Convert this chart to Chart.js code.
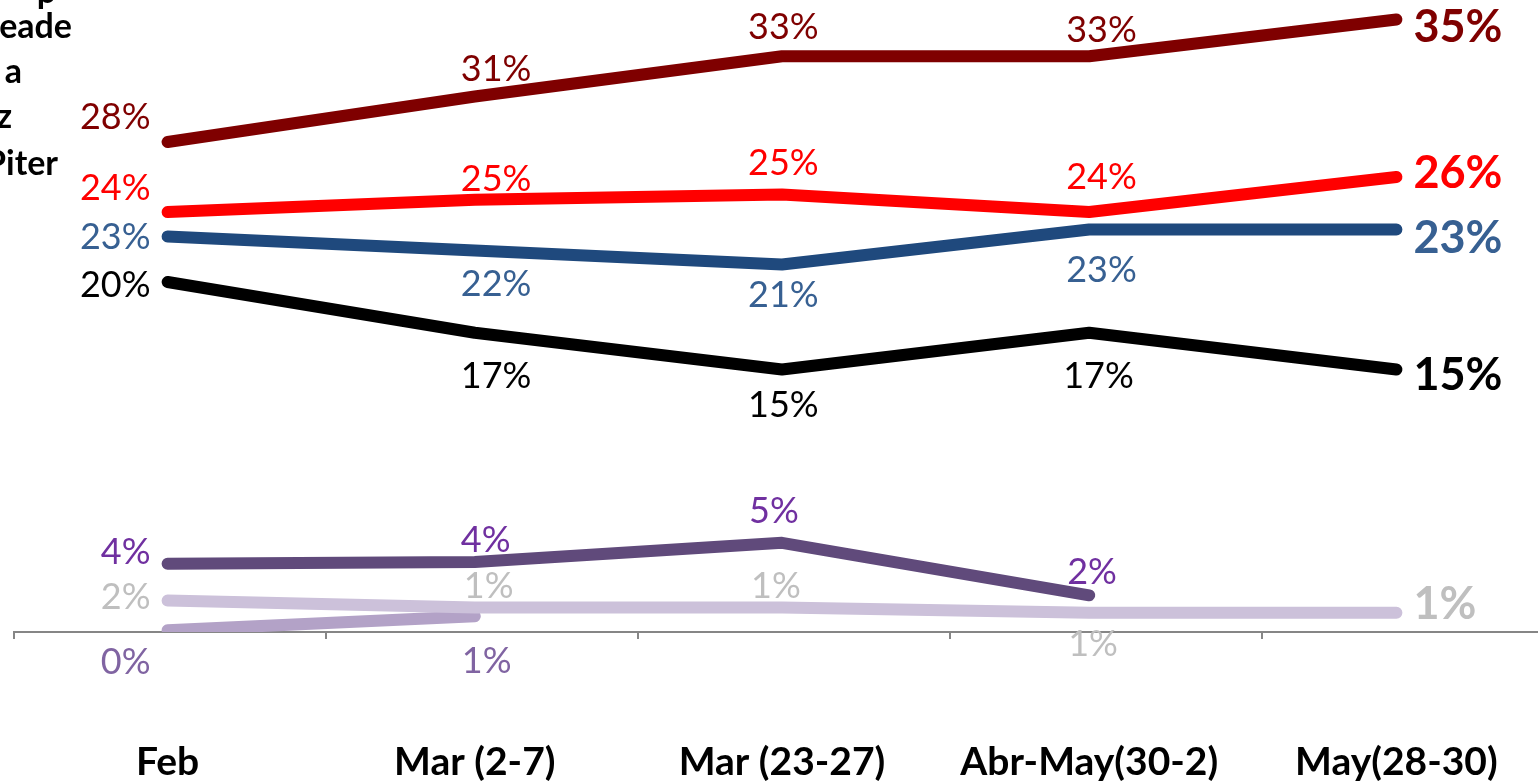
<!DOCTYPE html>
<html><head><meta charset="utf-8">
<script src="https://cdn.jsdelivr.net/npm/chart.js@4.4.1/dist/chart.umd.min.js"></script>
<style>
html,body{margin:0;padding:0;background:#fff;overflow:hidden;width:1538px;height:784px;}
#wrap{position:relative;width:1538px;height:784px;overflow:hidden;}
#c{position:absolute;left:0;top:0;display:block;}
.leg{position:absolute;width:300px;font:bold 34px Lato;line-height:34px;color:#000;white-space:nowrap;text-align:right;}
</style></head><body>
<div id="wrap"><canvas id="c" width="1550" height="784" style="width:1550px;height:784px"></canvas></div>
<script>
// ---- data ----
const categories = ['Feb', 'Mar (2-7)', 'Mar (23-27)', 'Abr-May(30-2)', 'May(28-30)'];
const seriesDarkRed  = [28.0, 30.6, 32.9, 32.9, 35.0];
const seriesRed      = [24.0, 24.7, 25.0, 24.0, 26.0];
const seriesBlue     = [22.6, 21.8, 21.0, 23.0, 23.0];
const seriesBlack    = [20.0, 17.1, 15.0, 17.1, 15.0];
const seriesPurple   = [3.9, 4.0, 5.1, 2.1, null];
const seriesLavender = [1.8, 1.4, 1.4, 1.1, 1.1];
const seriesViolet   = [0.1, 0.9, null, null, null];
const legendFragments = ['p', 'eade', 'a', 'z', 'Piter'];

// ---- legend fragments (cropped legend at top-left) ----
const legPos = [[56, -27], [72, 8], [22, 53], [12, 98], [58, 145]];
const wrap = document.getElementById('wrap');
legendFragments.forEach((t, i) => {
  const d = document.createElement('div');
  d.className = 'leg';
  d.textContent = t;
  d.style.left = (legPos[i][0] - 300) + 'px';
  d.style.top = legPos[i][1] + 'px';
  wrap.appendChild(d);
});

// label placement: [dx, dy, mode]  mode: L = right-aligned left of point, C = left-aligned above/below, R = big bold right
const P = {
  darkRed:  [[-17,-25,'L'],[-14,-27,'C'],[-34,-29,'C'],[-23,-26,'C'],[17,8,'R']],
  red:      [[-17,-24,'L'],[-14,-20,'C'],[-34,-31,'C'],[-23,-35,'C'],[17,-4,'R']],
  blue:     [[-17,1,'L'],[-14,34,'C'],[-34,31,'C'],[-23,41,'C'],[17,9,'R']],
  black:    [[-17,3,'L'],[-14,44,'C'],[-34,36,'C'],[-26,44,'C'],[17,6,'R']],
  purple:   [[-17,-11,'L'],[-14,-22,'C'],[-33,-31,'C'],[-22,-23,'C'],null],
  lavender: [[-17,-3,'L'],[-11,-21,'C'],[-31,-21,'C'],[-21,32,'C'],[17,-8,'R']],
  violet:   [[-17,32,'L'],[-13,45,'C'],null,null,null]
};

function ds(label, data, line, text, place) {
  return {label, data, borderColor: line, backgroundColor: line, labelColor: text, place,
    borderWidth: 12, borderCapStyle: 'round', borderJoinStyle: 'round', pointRadius: 0,
    tension: 0, spanGaps: false, clip: {left: 40, top: 40, right: 40, bottom: 0}};
}

const labelPlugin = {
  id: 'valueLabels',
  afterDatasetsDraw(chart) {
    const ctx = chart.ctx;
    ctx.save();
    ctx.textBaseline = 'middle';
    chart.data.datasets.forEach((d, di) => {
      const meta = chart.getDatasetMeta(di);
      meta.data.forEach((pt, i) => {
        const v = d.data[i];
        const pl = d.place[i];
        if (v === null || !pl) return;
        const txt = Math.round(v) + '%';
        const x = pt.x + pl[0], y = pt.y + pl[1];
        ctx.fillStyle = d.labelColor;
        if (pl[2] === 'R') {
          ctx.font = 'bold 45px Lato';
          ctx.textAlign = 'left';
        } else if (pl[2] === 'L') {
          ctx.font = '36px Lato';
          ctx.textAlign = 'right';
        } else {
          ctx.font = '36px Lato';
          ctx.textAlign = 'left';
        }
        ctx.fillText(txt, x, y);
      });
    });
    ctx.restore();
  }
};

function build() {
  new Chart(document.getElementById('c'), {
    type: 'line',
    data: {
      labels: categories,
      datasets: [
        ds('Dark red', seriesDarkRed, '#7F0000', '#7F0000', P.darkRed),
        ds('Red', seriesRed, '#FF0000', '#FF0000', P.red),
        ds('Blue', seriesBlue, '#1F497D', '#376092', P.blue),
        ds('Black', seriesBlack, '#000000', '#000000', P.black),
        ds('Purple', seriesPurple, '#604A7B', '#7030A0', P.purple),
        ds('Lavender', seriesLavender, '#CCC1DA', '#BFBFBF', P.lavender),
        ds('Violet', seriesViolet, '#B3A2C7', '#8064A2', P.violet)
      ]
    },
    options: {
      responsive: false, maintainAspectRatio: false, animation: false, devicePixelRatio: 1,
      layout: {padding: {left: 14, right: 0, top: 2, bottom: 0}},
      plugins: {legend: {display: false}, tooltip: {enabled: false}},
      scales: {
        y: {display: false, min: 0, max: 36},
        x: {type: 'category', offset: true, position: 'bottom', weight: 1,
            grid: {display: true, drawOnChartArea: false, drawTicks: true, tickLength: 102, color: 'rgba(0,0,0,0)', offset: true},
            border: {display: false},
            ticks: {font: {family: 'Lato', size: 39, weight: 'bold', lineHeight: 1.05}, color: '#000', padding: 1,
                    maxRotation: 0, autoSkip: false}},
        x2: {type: 'linear', position: 'bottom', weight: 0, min: 0, max: 1536 / 312,
             grid: {drawOnChartArea: false, drawTicks: true, tickLength: 7, color: '#868686', lineWidth: 2},
             border: {display: true, color: '#868686', width: 2},
             ticks: {display: false, stepSize: 1, includeBounds: false, padding: 0}}
      }
    },
    plugins: [labelPlugin]
  });
}
Promise.all([
  document.fonts.load('36px Lato'), document.fonts.load('bold 45px Lato'), document.fonts.load('bold 39px Lato')
]).then(build, build);
</script>
</body></html>
